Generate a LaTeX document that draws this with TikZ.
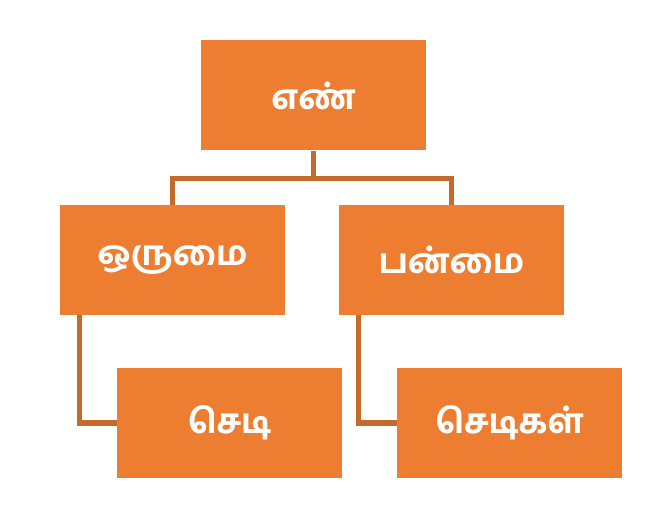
\documentclass[tikz,border=0pt]{standalone}
\usepackage{fontspec}
\newfontfamily\tamil[Script=Tamil]{Hind Madurai Bold}
\begin{document}
\begin{tikzpicture}[x=1pt,y=-1pt,
  box/.style={fill=orange1,minimum width=225pt,minimum height=110pt,inner sep=0pt,text=white,font=\tamil\fontsize{34}{40}\selectfont},
  conn/.style={draw=orange2,line width=5pt}]
\definecolor{orange1}{HTML}{ED7D31}
\definecolor{orange2}{HTML}{C46A2B}
\useasboundingbox (0,0) rectangle (664,510);
\node[box] (top) at (313.5,95.5) {எண்};
\node[box] (l) at (172.5,260) {ஒருமை};
\node[box] (r) at (451.5,260) {பன்மை};
\node[box] (bl) at (229.5,423) {செடி};
\node[box] (br) at (509.5,423) {செடிகள்};
\draw[conn] (top.south) -- ++(0,28) -| (l.north);
\draw[conn] (top.south) -- ++(0,28) -| (r.north);
\draw[conn] ([xshift=20pt]l.south west) |- (bl.west);
\draw[conn] ([xshift=20pt]r.south west) |- (br.west);
\end{tikzpicture}
\end{document}
